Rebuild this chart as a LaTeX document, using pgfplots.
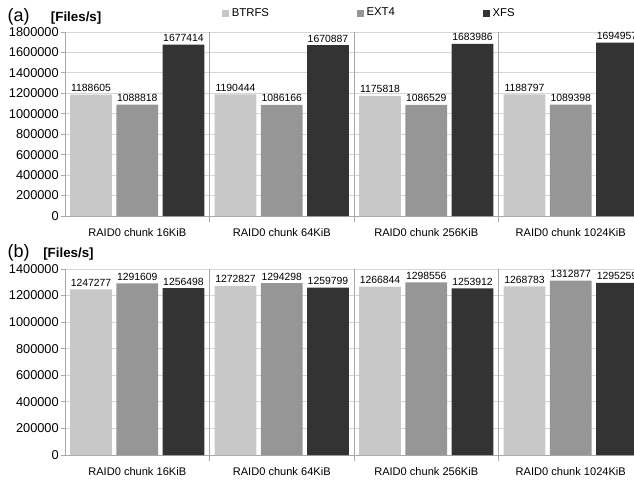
\documentclass[border=0pt]{standalone}
\usepackage{pgfplots}
\pgfplotsset{compat=1.18}
\usepackage{fontspec}
\setmainfont{Liberation Sans}

\definecolor{btrfs}{HTML}{C8C8C8}
\definecolor{ext4}{HTML}{969696}
\definecolor{xfs}{HTML}{333333}
\definecolor{gridc}{HTML}{D6D6D6}
\definecolor{sepc}{HTML}{A8A8A8}

% shared look of both panels: four chunk-size groups, three file systems each
\pgfplotsset{
  chunkbars/.style={
    scale only axis,
    width=433.5pt,
    ybar,
    bar width=0.29,
    xmin=-0.5, xmax=3.5,
    ymin=0,
    axis x line*=bottom,
    axis y line*=left,
    axis line style={sepc, line width=0.6pt, -},
    xtick={0,1,2,3},
    xticklabels={RAID0 chunk 16KiB, RAID0 chunk 64KiB, RAID0 chunk 256KiB, RAID0 chunk 1024KiB},
    x tick label style={font=\fontsize{8.3}{10}\selectfont, yshift=-3pt},
    x tick style={draw=none},
    extra x ticks={0.5,1.5,2.5,3.5},
    extra x tick labels={},
    extra x tick style={grid=major, major grid style={sepc, line width=0.6pt},
      x tick style={draw=sepc, line width=0.6pt}, major tick length=4.5pt},
    tick align=outside,
    major tick length=3pt,
    ymajorgrids,
    grid style={gridc, line width=0.6pt},
    y tick style={draw=sepc, line width=0.6pt},
    y tick label style={font=\fontsize{9.6}{11}\selectfont, inner sep=1.5pt,
      /pgf/number format/fixed, /pgf/number format/precision=0,
      /pgf/number format/1000 sep={}, /pgf/number format/assume math mode=true},
    yticklabel={\pgfmathprintnumber[fixed,precision=0,1000 sep={},assume math mode=true]{\tick}},
    scaled y ticks=false,
    point meta=y,
    nodes near coords={\pgfmathprintnumber[fixed,precision=0,1000 sep={},assume math mode=true]{\pgfplotspointmeta}},
    nodes near coords style={font=\fontsize{7.8}{9}\selectfont, inner sep=2pt},
  },
}

\begin{document}
\begin{tikzpicture}

% (a) panel
\begin{axis}[chunkbars,
  at={(48.75pt,-162pt)}, anchor=south west,
  height=138pt,
  ymax=1800000,
  ytick={0,200000,...,1800000},
  legend columns=3,
  legend image code/.code={\fill[#1] (0pt,-2.6pt) rectangle (5.2pt,2.6pt);},
  legend style={draw=none, fill=none, at={(0.2716,1.103)}, anchor=west, inner sep=0pt,
    font=\fontsize{8.5}{10}\selectfont,
    /tikz/every even column/.append style={column sep=64pt}},
]
\addplot[fill=btrfs, draw=none, bar shift=-0.32] coordinates {(0,1188605) (1,1190444) (2,1175818) (3,1188797)};
\addplot[fill=ext4, draw=none, bar shift=0] coordinates {(0,1088818) (1,1086166) (2,1086529) (3,1089398)};
\addplot[fill=xfs, draw=none, bar shift=0.32] coordinates {(0,1677414) (1,1670887) (2,1683986) (3,1694957)};
\legend{BTRFS, EXT4, XFS}
\end{axis}

% (b) panel
\begin{axis}[chunkbars,
  at={(48.75pt,-341.25pt)}, anchor=south west,
  height=139.5pt,
  ymax=1400000,
  ytick={0,200000,...,1400000},
]
\addplot[fill=btrfs, draw=none, bar shift=-0.32] coordinates {(0,1247277) (1,1272827) (2,1266844) (3,1268783)};
\addplot[fill=ext4, draw=none, bar shift=0] coordinates {(0,1291609) (1,1294298) (2,1298556) (3,1312877)};
\addplot[fill=xfs, draw=none, bar shift=0.32] coordinates {(0,1256498) (1,1259799) (2,1253912) (3,1295259)};
\end{axis}

% panel captions and unit labels
\node[anchor=west, inner sep=0pt, font=\fontsize{13.5}{15}\selectfont] at (5.5pt,-12.75pt) {(a)};
\node[anchor=west, inner sep=0pt, font=\fontsize{10}{12}\selectfont\bfseries] at (38pt,-13.5pt) {[Files/s]};
\node[anchor=west, inner sep=0pt, font=\fontsize{13.5}{15}\selectfont] at (5.5pt,-189.75pt) {(b)};
\node[anchor=west, inner sep=0pt, font=\fontsize{10}{12}\selectfont\bfseries] at (32.25pt,-190.5pt) {[Files/s]};

% the last group runs past the right edge of the page
\pgfresetboundingbox
\useasboundingbox (0pt,0pt) rectangle (475.5pt,-360pt);
\end{tikzpicture}
\end{document}
